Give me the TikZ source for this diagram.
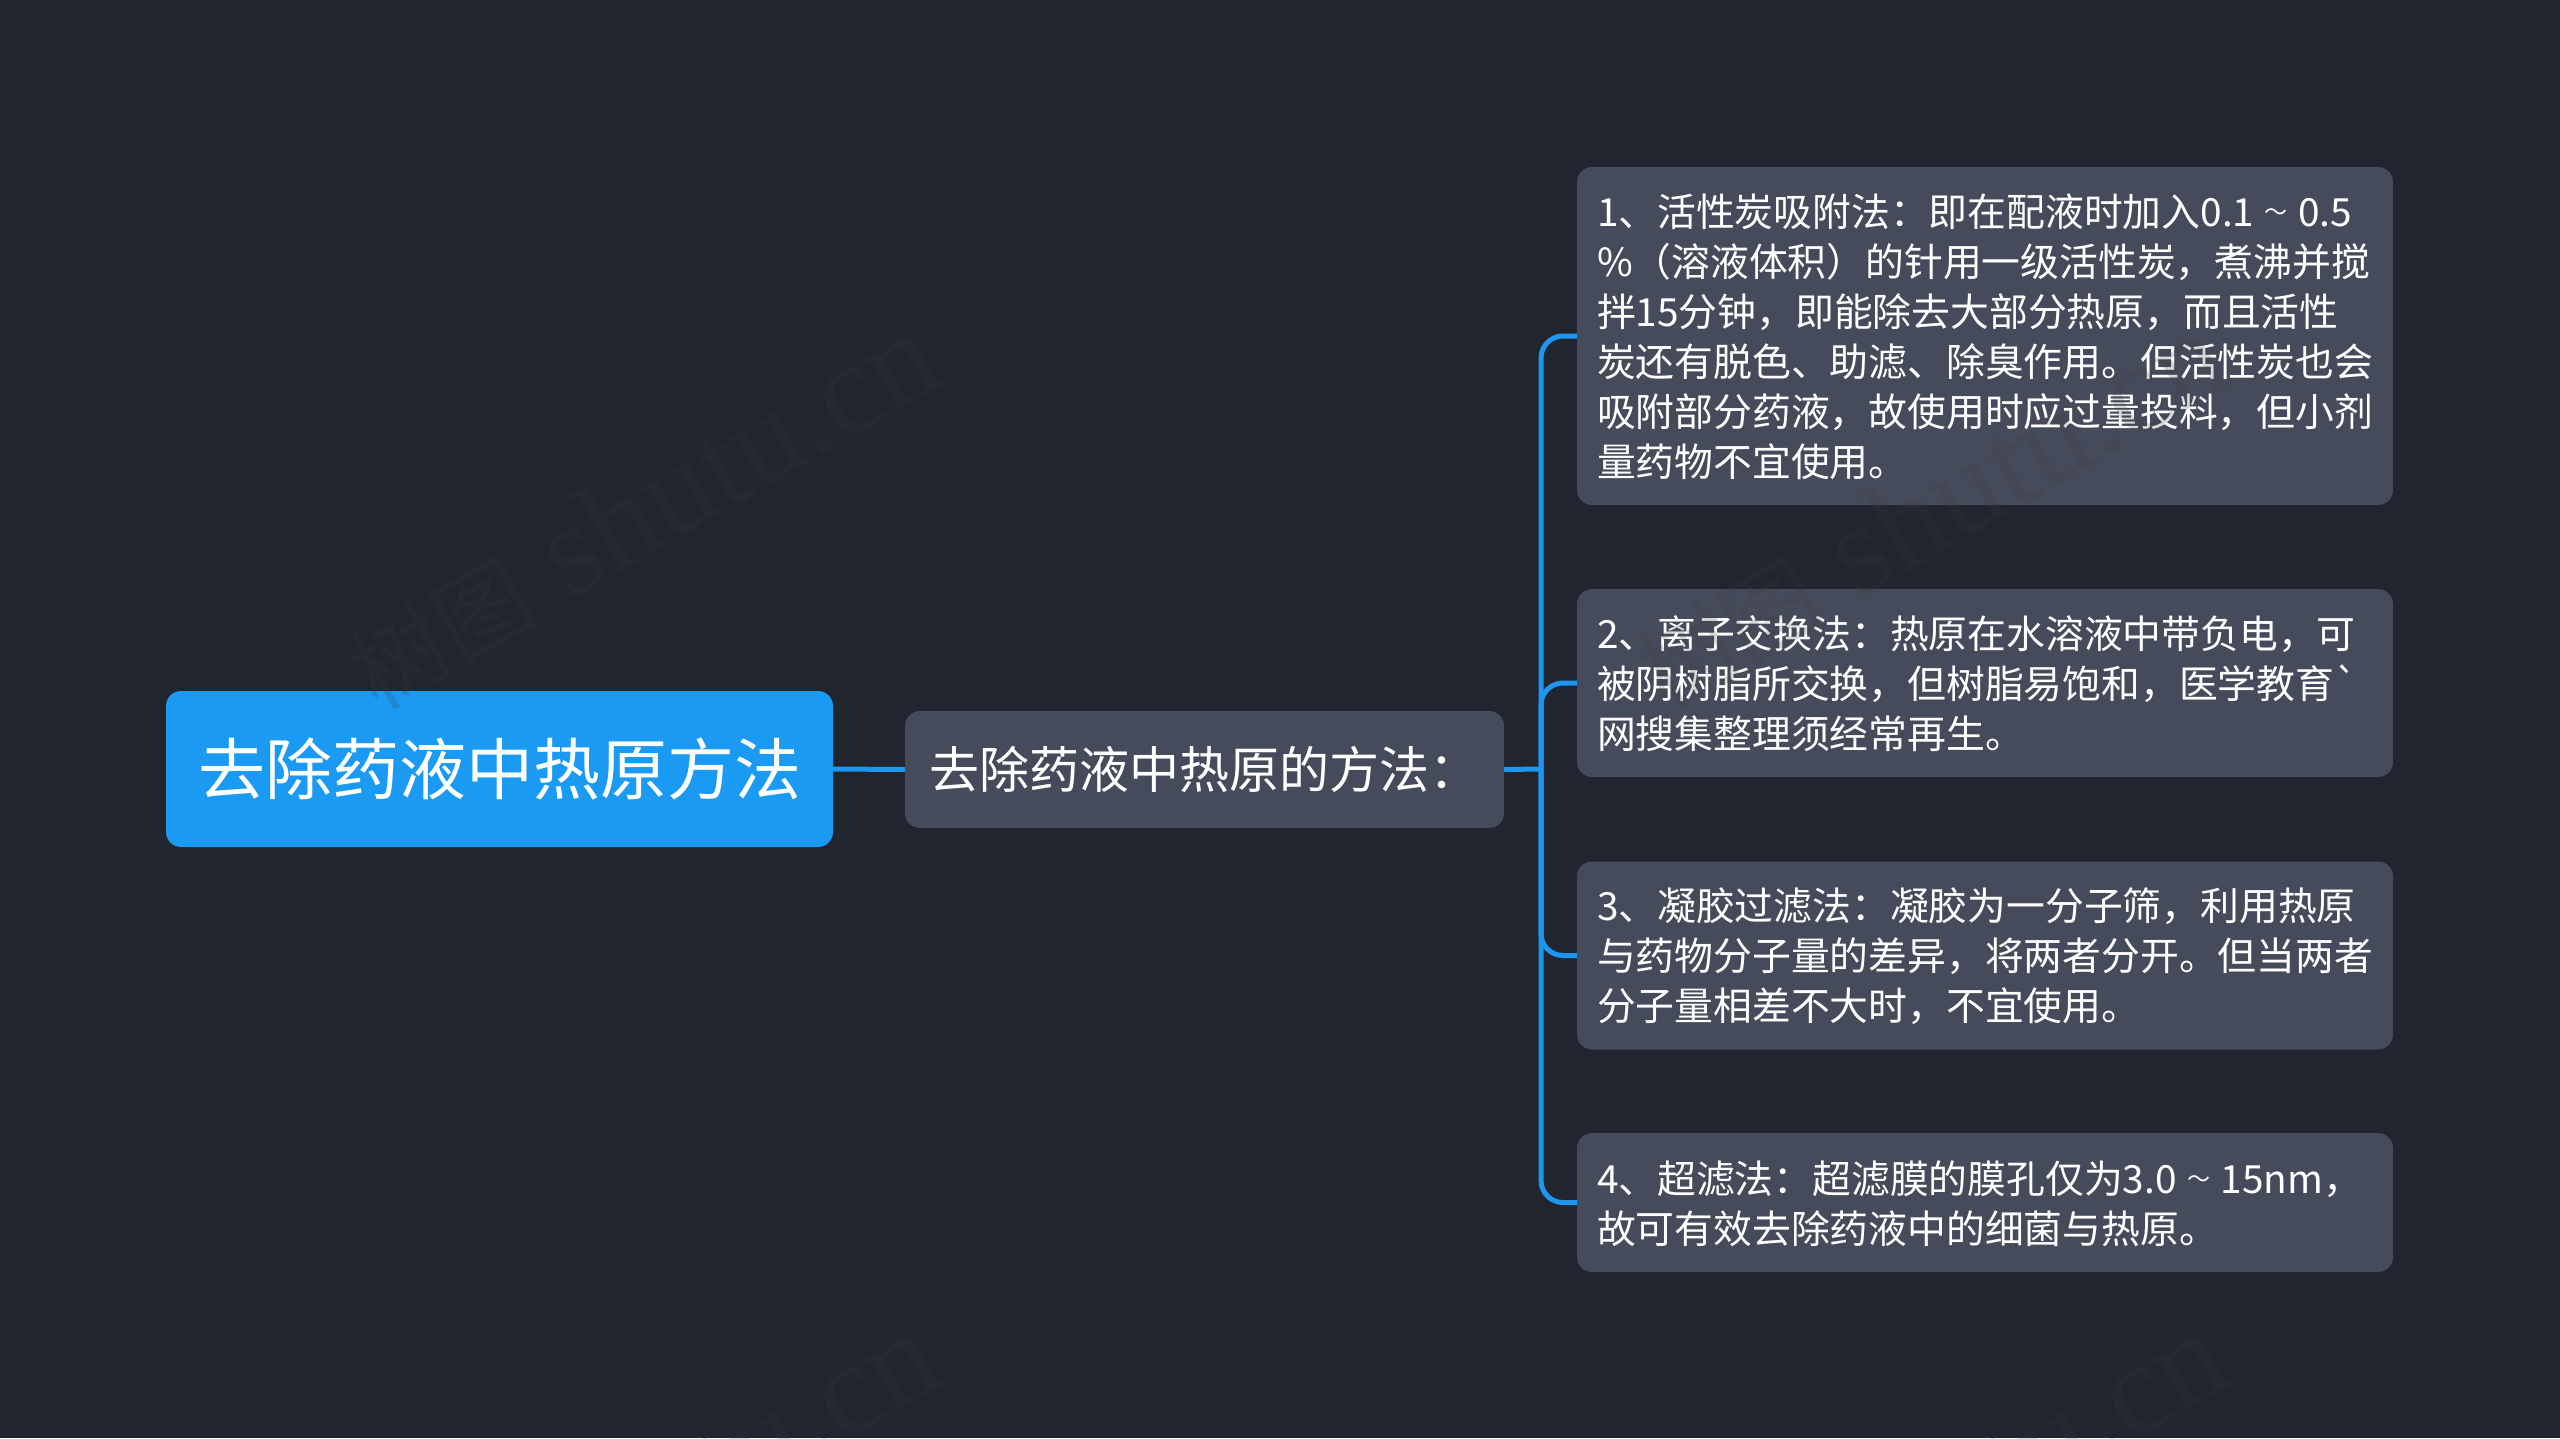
\documentclass[tikz,border=0pt]{standalone}
\usepackage{fontspec}
\newfontfamily\cjk{Noto Sans CJK SC}
\newfontfamily\wmserif{Liberation Serif}
\definecolor{bgc}{HTML}{212530}
\definecolor{boxc}{HTML}{454B5A}
\definecolor{rootc}{HTML}{1A9AF3}
\definecolor{linkc}{HTML}{1E96EE}
\definecolor{wmc}{HTML}{3C3C3C}
\newcommand{\tld}{\makebox[44pt]{\raisebox{6pt}{\fontsize{23}{23}\selectfont ～}}}
\newcommand{\wmtext}{{\cjk\fontsize{95}{95}\selectfont 树图} shutu.cn}
\tikzset{
  x=1pt,y=-1pt,
  rootbox/.style={fill=rootc,rounded corners=15pt,minimum width=667pt,minimum height=156pt,inner sep=0pt,text=white,font=\cjk\fontsize{67}{80}\selectfont},
  subbox/.style={fill=boxc,rounded corners=15pt,minimum width=599pt,minimum height=117pt,inner sep=0pt,text=white,font=\cjk\fontsize{50}{60}\selectfont},
  leafbox/.style={fill=boxc,rounded corners=15pt,text width=776pt,minimum width=816pt,inner xsep=20pt,inner ysep=0pt,align=left,text=white,font=\cjk\fontsize{38.8}{50}\selectfont,execute at begin node={\rule{0pt}{35pt}}},
  linkline/.style={draw=linkc,line width=5pt},
  elbowline/.style={draw=linkc,line width=5pt,rounded corners=22pt},
  wmark/.style={rotate=30,text=wmc,text opacity=.2,font=\wmserif\fontsize{130}{130}\selectfont},
}
\begin{document}
\begin{tikzpicture}
\useasboundingbox (0,0) rectangle (2560,1438);
\fill[bgc] (0,0) rectangle (2560,1438);
\clip (0,0) rectangle (2560,1438);
\coordinate (j) at (1541,769);
\node[rootbox] (root) at (499.5,769) {去除药液中热原方法};
\node[subbox] (sub) at (1204.5,769.5) {去除药液中热原的方法：};
\node[leafbox,minimum height=338pt] (c1) at (1985,336) {1、活性炭吸附法：即在配液时加入0.1\tld 0.5\\\%（溶液体积）的针用一级活性炭，煮沸并搅\\拌15分钟，即能除去大部分热原，而且活性\\炭还有脱色、助滤、除臭作用。但活性炭也会\\吸附部分药液，故使用时应过量投料，但小剂\\量药物不宜使用。};
\node[leafbox,minimum height=188pt] (c2) at (1985,683) {2、离子交换法：热原在水溶液中带负电，可\\被阴树脂所交换，但树脂易饱和，医学教育`\\网搜集整理须经常再生。};
\node[leafbox,minimum height=188pt] (c3) at (1985,955.5) {3、凝胶过滤法：凝胶为一分子筛，利用热原\\与药物分子量的差异，将两者分开。但当两者\\分子量相差不大时，不宜使用。};
\node[leafbox,minimum height=139pt] (c4) at (1985,1202.5) {4、超滤法：超滤膜的膜孔仅为3.0\tld 15nm，\\故可有效去除药液中的细菌与热原。};
\draw[linkline] (root.east) -- (sub.west);
\draw[linkline] (sub.east) -- (j);
\draw[elbowline] (j) |- (c1.west);
\draw[elbowline] (j) |- (c2.west);
\draw[elbowline] (j) |- (c3.west);
\draw[elbowline] (j) |- (c4.west);
\node[wmark] (w1) at (642,511) {\wmtext};
\node[wmark] (w2) at (1930,511) {\wmtext};
\node[wmark] (w3) at (642,1511) {\wmtext};
\node[wmark] (w4) at (1930,1511) {\wmtext};
\end{tikzpicture}
\end{document}
